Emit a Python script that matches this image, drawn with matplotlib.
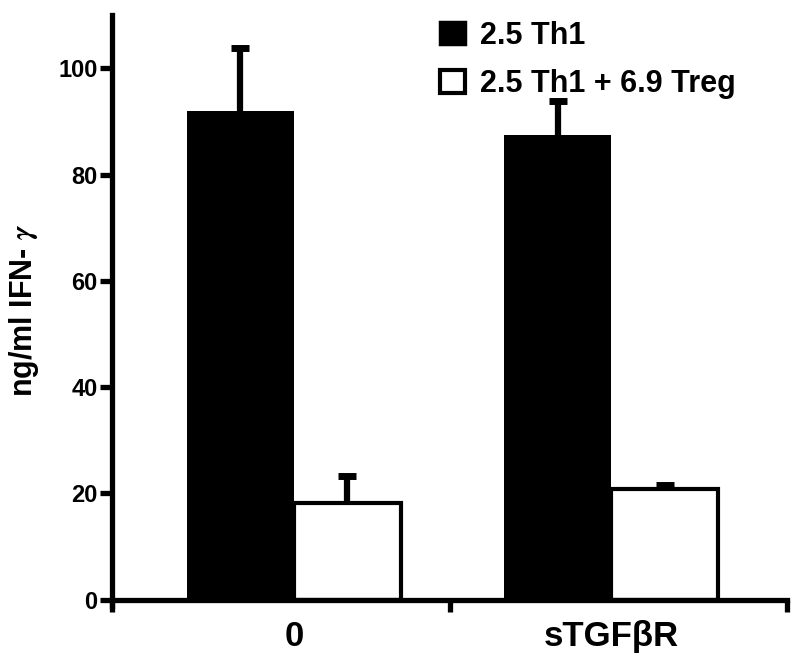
import matplotlib
matplotlib.use("Agg")
import matplotlib.pyplot as plt
from matplotlib.patches import Patch
import numpy as np

plt.rcParams['font.family'] = ['Liberation Sans', 'DejaVu Sans']
plt.rcParams['font.weight'] = 'bold'
plt.rcParams['mathtext.fontset'] = 'stix'

groups = ['0', 'sTGF\u03b2R']
series = ['2.5 Th1', '2.5 Th1 + 6.9 Treg']
th1 = [92.0, 87.4]
th1_err = [11.8, 6.4]
treg = [18.2, 20.9]
treg_err = [5.0, 0.6]
yticks = [0, 20, 40, 60, 80, 100]

centers = np.array([0.539, 1.479])
w = 0.317

fig = plt.figure(figsize=(8, 6.63), dpi=100)
ax = fig.add_axes([0.14, 0.086, 0.844, 0.891])

ax.bar(centers - w / 2, th1, w, color='black', edgecolor='black', linewidth=0, zorder=2)
ax.bar(centers + w / 2, treg, w, color='white', edgecolor='black', linewidth=3, zorder=2)
for xs, vals, errs in [(centers - w / 2, th1, th1_err), (centers + w / 2, treg, treg_err)]:
    _, caps, _ = ax.errorbar(xs, vals, yerr=[np.zeros(2), errs], fmt='none',
                             ecolor='black', elinewidth=4.5, capsize=6.5,
                             capthick=5, zorder=1)
    caps[0].set_visible(False)  # drop the cap sitting on the bar top

ax.set_xlim(0, 2)
ax.set_ylim(-1.2, 110)
ax.spines['top'].set_visible(False)
ax.spines['right'].set_visible(False)
ax.spines['bottom'].set_position(('data', 0))
for s in ['left', 'bottom']:
    ax.spines[s].set_linewidth(3.8)

ax.set_yticks(yticks)
ax.set_yticklabels([str(v) for v in yticks], fontsize=17, fontweight='bold')
ax.set_xticks([0, 1, 2])
ax.set_xticklabels([])
ax.tick_params(axis='both', length=8.5, width=3.8, pad=2)
for c, g in zip(centers, groups):
    ax.text(c, -3.8, g, ha='center', va='top', fontsize=25, fontweight='bold')

ax.set_ylabel('ng/ml IFN- $\\gamma$', fontsize=22, fontweight='bold', labelpad=12)

handles = [Patch(facecolor='black', edgecolor='black', linewidth=2.5),
           Patch(facecolor='white', edgecolor='black', linewidth=3)]
fig.legend(handles, series, loc='upper left', bbox_to_anchor=(0.516, 1.01),
           frameon=False, fontsize=22, handlelength=0.8, handleheight=0.75,
           handletextpad=0.5, labelspacing=0.6)

fig.savefig('out.png', dpi=100)
